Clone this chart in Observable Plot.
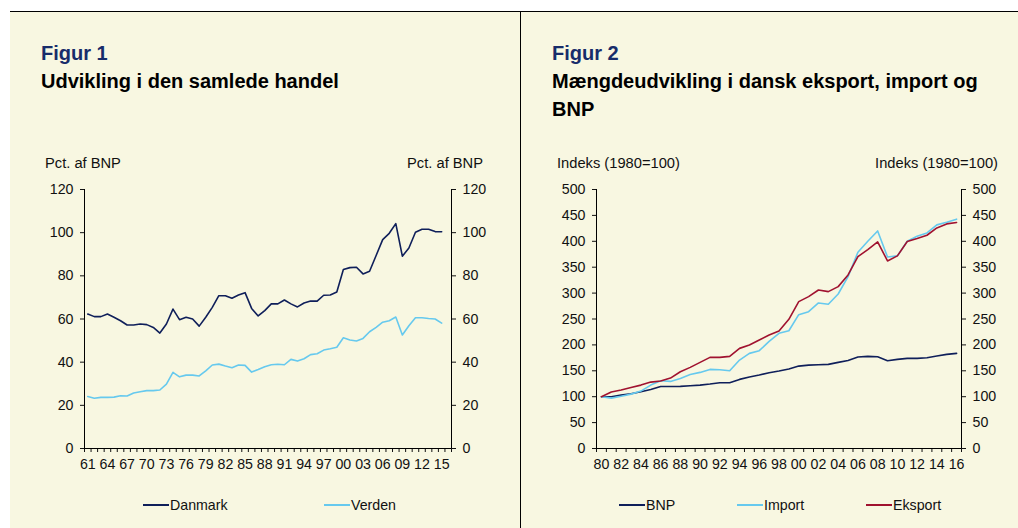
<!DOCTYPE html>
<html>
<head>
<meta charset="utf-8">
<script src="https://cdn.jsdelivr.net/npm/d3@7"></script>
<script src="https://cdn.jsdelivr.net/npm/@observablehq/plot@0.6"></script>
<style>
  html, body { margin: 0; padding: 0; background: #fff; }
  body { width: 1018px; height: 528px; position: relative; overflow: hidden;
         font-family: "Liberation Sans", Arial, sans-serif; color: #111; }
  #frame { position: absolute; left: 10px; top: 11px; width: 1008px; height: 517px;
           background: #f8f7e1; border-top: 1.5px solid #000; box-sizing: border-box; }
  #divider { position: absolute; left: 519.5px; top: 11px; width: 1.6px; height: 517px; background: #000; }
  .head { position: absolute; top: 39px; line-height: 28px; font-size: 20px; font-weight: bold; }
  .head .fig { color: #172c6a; }
  .head .ttl { color: #000; }
  .unit { position: absolute; top: 155px; font-size: 14.7px; line-height: 16px; white-space: nowrap; }
  .chart { position: absolute; top: 175px; }
  .leg { position: absolute; top: 496px; font-size: 14.2px; line-height: 18px; white-space: nowrap; }
  .leg span.sw { display: inline-block; width: 26px; height: 1.6px; vertical-align: middle; margin-right: 1px; position: relative; top: -1px; }
</style>
</head>
<body>
<div id="frame"></div>
<div id="divider"></div>

<div class="head" style="left:41px;"><div class="fig">Figur 1</div><div class="ttl">Udvikling i den samlede handel</div></div>
<div class="head" style="left:552px; width:445px;"><div class="fig">Figur 2</div><div class="ttl">Mængdeudvikling i dansk eksport, import og BNP</div></div>

<div class="unit" style="left:45px;">Pct. af BNP</div>
<div class="unit" style="right:535px;">Pct. af BNP</div>
<div class="unit" style="left:557px;">Indeks (1980=100)</div>
<div class="unit" style="right:20px;">Indeks (1980=100)</div>

<div id="c1" class="chart" style="left:10px;"></div>
<div id="c2" class="chart" style="left:520px;"></div>

<div id="legends"></div>

<script>
// ---------- Figur 1 data ----------
const years1 = d3.range(1961, 2016); // 1961..2015
const danmark = [62.3,61.1,61.1,62.3,60.8,59.2,57.2,57.2,57.7,57.4,56.1,53.5,57.7,64.6,59.7,60.8,60.0,56.7,60.8,65.4,
  70.8,70.8,69.6,71.1,72.2,64.9,61.4,63.9,67.0,67.0,68.8,67.0,65.6,67.4,68.3,68.3,71.0,71.1,72.5,82.9,
  83.8,84.0,80.9,82.1,89.4,96.8,99.7,104.2,89.1,92.9,100.2,101.6,101.6,100.5,100.4];
const verden = [24.1,23.3,23.7,23.7,23.8,24.4,24.3,25.7,26.3,26.8,26.8,27.1,29.8,35.3,33.2,34.0,34.0,33.6,36.0,38.7,
  39.1,38.2,37.4,38.7,38.5,35.4,36.6,37.9,38.8,39.0,38.8,41.3,40.5,41.6,43.5,43.9,45.6,46.2,46.9,51.3,
  50.3,49.8,51.0,54.1,56.1,58.5,59.2,60.9,52.6,56.9,60.6,60.6,60.2,60.0,58.1];
const yTicks1 = [0,20,40,60,80,100,120];
const xFirst1 = 1961, xLast1 = 2016; // category axis range
const xLabels1 = d3.range(1961, 2016, 3);

// ---------- Figur 2 data ----------
const years2 = d3.range(1980, 2017); // 1980..2016
const bnp = [100,100,103,105.7,109.5,114,119.8,119.8,120,121,122.4,124.4,127,127,133.4,137.9,141.8,146.3,149.5,153.4,
  159.1,161,161.7,162.4,166.2,170,176.5,177.8,177.2,169.5,172,174,174,175.3,178.5,181.7,183.6];
const importv = [100,97.3,101,105,110.8,122.4,130.8,129.5,135.3,143,146.9,152.7,152,150,170.7,183.6,188.8,206.8,222.3,227.4,
  258.4,264.2,281,278.4,298.3,331.8,378.9,400.1,420,369.8,371.8,400.1,409.8,416.2,431.7,436.9,442.7];
const eksport = [100,108.9,112.8,117.9,122.4,128.2,130.2,136,148.2,156.6,166.2,175.9,175.9,177.8,193.3,199.7,209.4,219.1,226.8,249.4,
  283.5,293.2,306,302.8,312.5,335,370.5,384,398.8,362.1,371.8,399.5,405.3,411.7,425.9,433.6,436.2];
const yTicks2 = [0,50,100,150,200,250,300,350,400,450,500];
const xFirst2 = 1980, xLast2 = 2016;
const xLabels2 = d3.range(1980, 2017, 2);

const NAVY = "#0f1f5a", LIGHT = "#66c9ee", RED = "#a0122f";

function twoDigit(d) { return String(d).slice(2); }

function makeChart(opts) {
  const { years, series, yDomain, yTicks, xFirst, xLast, xLabels, width, marginLeft, marginRight } = opts;
  const bounds = d3.range(xFirst - 0.5, xLast + 1, 1);
  const marks = [
    Plot.axisY({anchor: "left", ticks: yTicks, tickSize: 4, tickPadding: 7, label: null}),
    Plot.axisY({anchor: "right", ticks: yTicks, tickSize: 4, tickPadding: 7, label: null}),
    Plot.axisX({ticks: bounds, tickSize: 4, tickFormat: () => "", label: null}),
    Plot.axisX({ticks: xLabels, tickSize: 0, tickPadding: 10, tickFormat: twoDigit, label: null}),
    Plot.ruleX([xFirst - 0.5, xLast + 0.5], {stroke: "#000", strokeWidth: 1}),
    Plot.ruleY([0], {stroke: "#000", strokeWidth: 1})
  ];
  for (const s of series) {
    const data = s.values.map((v, i) => ({year: years[i], value: v}));
    marks.push(Plot.lineY(data, {x: "year", y: "value", stroke: s.color, strokeWidth: 1.6}));
  }
  return Plot.plot({
    width, height: 305,
    marginLeft, marginRight, marginTop: 14, marginBottom: 32,
    style: {background: "transparent", fontFamily: "'Liberation Sans', Arial, sans-serif", fontSize: "14.2px", color: "#111", overflow: "visible"},
    x: {domain: [xFirst - 0.5, xLast + 0.5]},
    y: {domain: yDomain},
    marks
  });
}

document.getElementById("c1").appendChild(makeChart({
  years: years1,
  series: [{values: danmark, color: NAVY}, {values: verden, color: LIGHT}],
  yDomain: [0, 120], yTicks: yTicks1, xFirst: xFirst1, xLast: xLast1, xLabels: xLabels1,
  width: 510, marginLeft: 74, marginRight: 69
}));

document.getElementById("c2").appendChild(makeChart({
  years: years2,
  series: [{values: bnp, color: NAVY}, {values: importv, color: LIGHT}, {values: eksport, color: RED}],
  yDomain: [0, 500], yTicks: yTicks2, xFirst: xFirst2, xLast: xLast2, xLabels: xLabels2,
  width: 498, marginLeft: 76, marginRight: 57
}));

// legends
const legendItems = [
  {label: "Danmark", color: NAVY, left: 143},
  {label: "Verden", color: LIGHT, left: 324},
  {label: "BNP", color: NAVY, left: 619},
  {label: "Import", color: LIGHT, left: 737},
  {label: "Eksport", color: RED, left: 866}
];
const legRoot = document.getElementById("legends");
for (const it of legendItems) {
  const d = document.createElement("div");
  d.className = "leg";
  d.style.left = it.left + "px";
  const sw = document.createElement("span");
  sw.className = "sw";
  sw.style.background = it.color;
  d.appendChild(sw);
  d.appendChild(document.createTextNode(it.label));
  legRoot.appendChild(d);
}
</script>
</body>
</html>
